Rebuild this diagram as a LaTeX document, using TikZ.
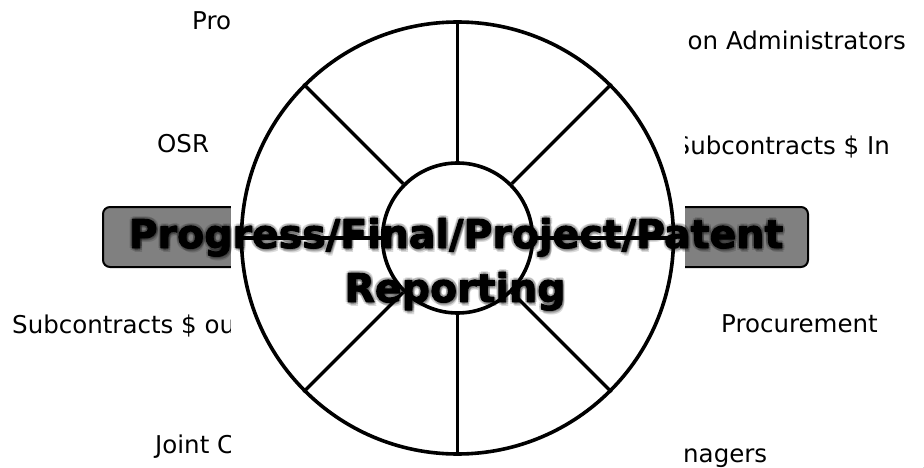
\documentclass[tikz,border=0pt]{standalone}
\usepackage{fontspec}
\setmainfont{DejaVu Sans}
\newcommand{\heavytext}[1]{\special{pdf:literal direct 1 j 0.9 w 2 Tr}#1\special{pdf:literal direct 0 Tr 1 w}}
\begin{document}
\begin{tikzpicture}[x=1pt,y=-1pt,
  lbl/.style={font=\fontsize{24.5}{29}\selectfont, inner sep=0pt, anchor=base west, text=black},
  ttl/.style={font=\fontsize{39.5}{46}\bfseries\selectfont, inner sep=0pt, anchor=base},
  halo/.style={ttl, text=black, opacity=0.14},
  wheel/.style={line width=3.6pt, draw=black},
  bar/.style={draw=black, line width=2pt, fill=black!50, rounded corners=7pt, inner sep=0pt}]
\useasboundingbox (0,0) rectangle (924,468);
\fill[white] (0,0) rectangle (924,468);
% labels (partly hidden behind the wheel panel)
\node[lbl] (pro) at (192,30) {Pro};
\node[lbl] (osr) at (157,153) {OSR};
\node[lbl] (subout) at (12,333) {Subcontracts \$ ou};
\node[lbl] (joint) at (155,453) {Joint C};
\node[lbl, anchor=base east] (admin) at (906,50) {on Administrators};
\node[lbl, anchor=base east] (subin) at (890,155) {Subcontracts \$ In};
\node[lbl] (proc) at (721,332) {Procurement};
\node[lbl] (mgr) at (683,462) {nagers};
% grey banner
\node[bar, minimum width=705pt, minimum height=60pt] (banner) at (455.5,237) {};
% white panel behind the wheel
\fill[white] (231,-5) rectangle (685,475);
% wheel
\node[circle, wheel, fill=white, minimum size=432pt, inner sep=0pt] (outer) at (457.5,238) {};
\node[circle, wheel, fill=white, minimum size=150pt, inner sep=0pt] (inner) at (457.5,238) {};
\foreach \a in {0,45,...,315}
  \draw[wheel, line width=3.4pt] (inner.\a) -- (outer.\a);
% title with soft halo
\foreach \dx/\dy [count=\i] in {3/0,-2/0,1/3,1/-2.5,2.8/2.8,-1.5/2.5,2.5/-1.8,-1.5/-1.5,1.5/1.5,2.5/4} {
  \node[halo] (hA\i) at (456+\dx,248+\dy) {Progress/Final/Project/Patent};
  \node[halo] (hB\i) at (455+\dx,302+\dy) {Reporting};
}
\node[ttl] (title1) at (456,248) {\heavytext{Progress/Final/Project/Patent}};
\node[ttl] (title2) at (455,302) {\heavytext{Reporting}};
% corner blob
\fill[black!40] (938,488) circle (25pt);
\end{tikzpicture}
\end{document}
